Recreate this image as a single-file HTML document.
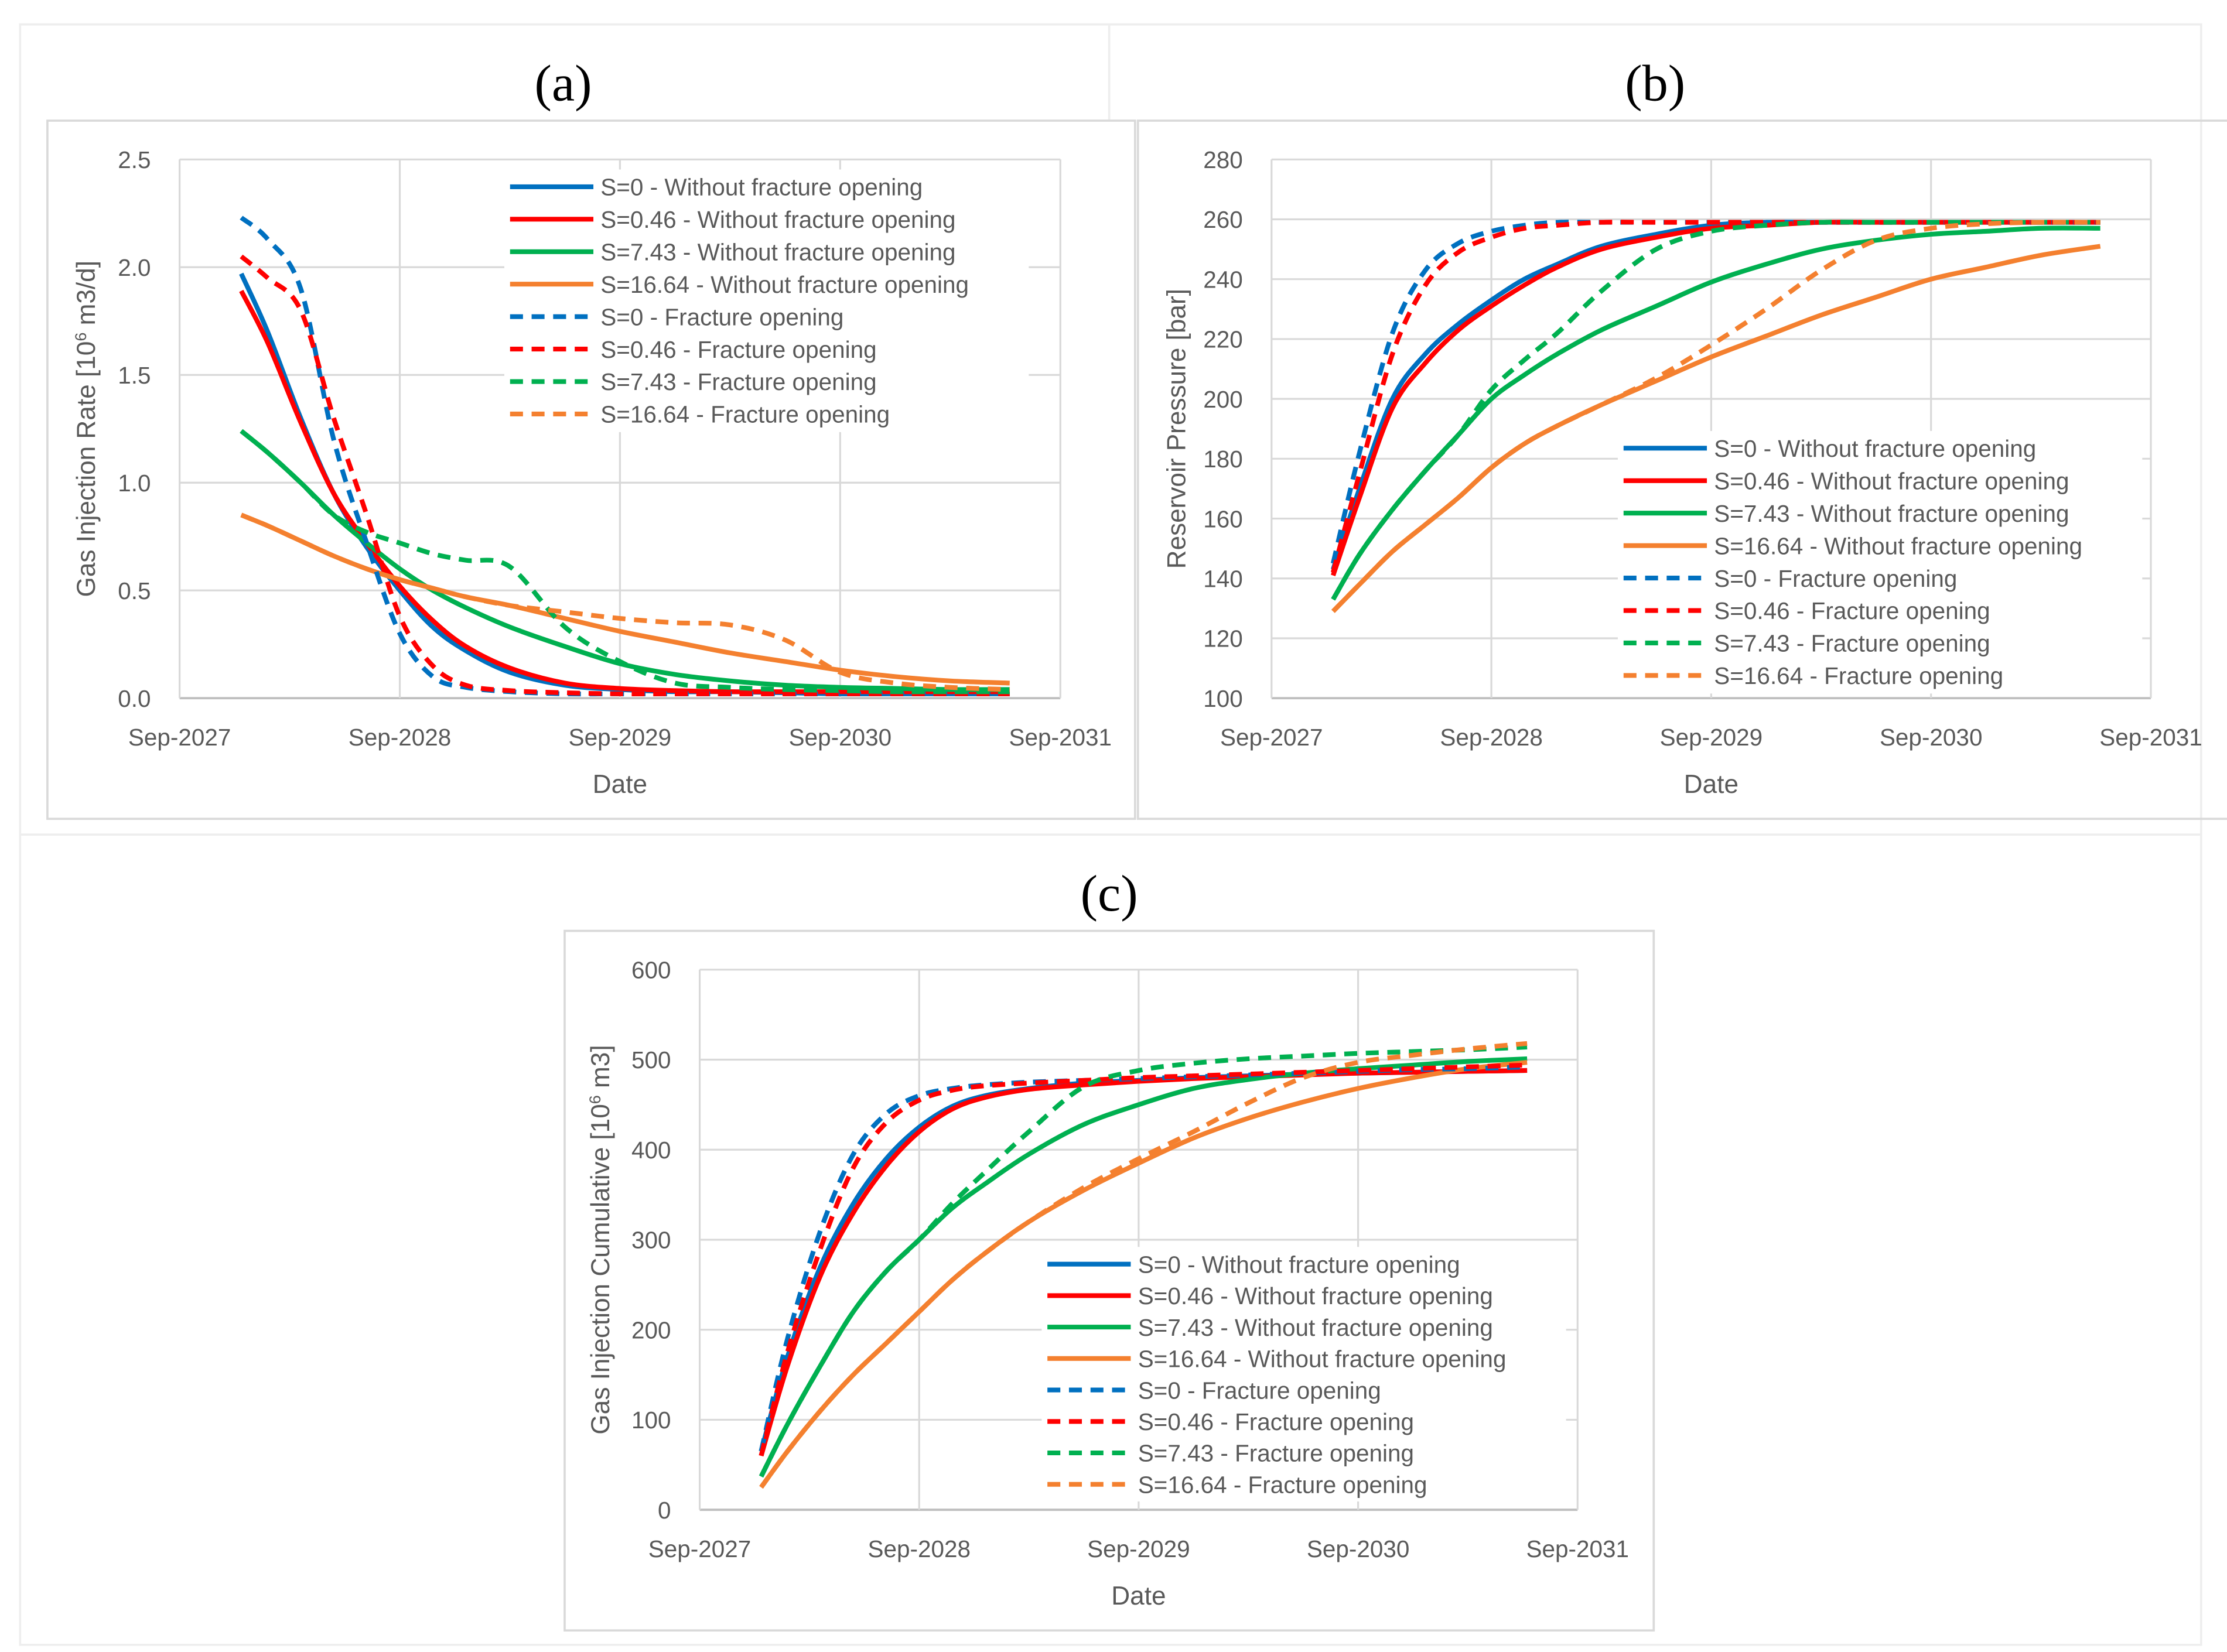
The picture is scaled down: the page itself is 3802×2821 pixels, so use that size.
<!DOCTYPE html>
<html><head><meta charset="utf-8"><style>
html,body{margin:0;padding:0;background:#fff}
svg{display:block}
text{font-family:"Liberation Sans",sans-serif}
</style></head><body>
<svg id="fig" width="3802" height="2821" viewBox="0 0 1550 1150" preserveAspectRatio="none" xmlns="http://www.w3.org/2000/svg">
<rect x="0" y="0" width="1550" height="1150" fill="#fff"/>
<rect x="14" y="17" width="1518" height="1128" fill="none" stroke="#eeeeee" stroke-width="1.5"/>
<line x1="14" y1="581" x2="1532" y2="581" stroke="#eeeeee" stroke-width="1.5"/>
<line x1="772" y1="17" x2="772" y2="84" stroke="#eeeeee" stroke-width="1.5"/>
<rect x="33" y="84" width="757" height="486" fill="none" stroke="#d9d9d9" stroke-width="1.5"/>
<rect x="792" y="84" width="760" height="486" fill="none" stroke="#d9d9d9" stroke-width="1.5"/>
<rect x="393" y="648" width="758" height="487" fill="none" stroke="#d9d9d9" stroke-width="1.5"/>
<text x="392" y="70" text-anchor="middle" font-size="36" style="font-family:'Liberation Serif',serif">(a)</text>
<text x="1152" y="70" text-anchor="middle" font-size="36" style="font-family:'Liberation Serif',serif">(b)</text>
<text x="772" y="634" text-anchor="middle" font-size="36" style="font-family:'Liberation Serif',serif">(c)</text>
<g id="charts"></g>
</svg>
<script>
const t = [0.28,0.4,0.55,0.7,0.85,1.0,1.15,1.3,1.5,1.75,2.0,2.25,2.5,2.75,3.0,3.25,3.5,3.77];
const xTickLabels = ["Sep-2027","Sep-2028","Sep-2029","Sep-2030","Sep-2031"];
const legendLabels = ["S=0 - Without fracture opening","S=0.46 - Without fracture opening","S=7.43 - Without fracture opening","S=16.64 - Without fracture opening","S=0 - Fracture opening","S=0.46 - Fracture opening","S=7.43 - Fracture opening","S=16.64 - Fracture opening"];

const rateS0 = [1.97,1.7,1.3,0.95,0.7,0.5,0.33,0.22,0.12,0.06,0.04,0.03,0.03,0.025,0.02,0.02,0.02,0.02];
const rateS046 = [1.89,1.65,1.28,0.95,0.72,0.52,0.36,0.24,0.14,0.07,0.045,0.035,0.03,0.03,0.03,0.03,0.03,0.03];
const rateS743 = [1.24,1.14,1.0,0.85,0.72,0.6,0.5,0.42,0.33,0.24,0.16,0.11,0.08,0.06,0.05,0.045,0.04,0.04];
const rateS1664 = [0.85,0.8,0.73,0.66,0.6,0.55,0.51,0.47,0.43,0.37,0.31,0.26,0.21,0.17,0.13,0.1,0.08,0.07];
const rateS0F = [2.23,2.13,1.9,1.2,0.72,0.3,0.1,0.05,0.03,0.02,0.02,0.02,0.02,0.02,0.02,0.02,0.02,0.02];
const rateS046F = [2.05,1.95,1.8,1.3,0.85,0.38,0.15,0.06,0.035,0.025,0.02,0.02,0.02,0.02,0.02,0.02,0.02,0.02];
const rateS743F = [1.24,1.14,1.0,0.85,0.77,0.72,0.67,0.64,0.61,0.33,0.17,0.07,0.05,0.04,0.035,0.03,0.03,0.03];
const rateS1664F = [0.85,0.8,0.73,0.66,0.6,0.55,0.51,0.47,0.43,0.4,0.37,0.35,0.34,0.27,0.12,0.07,0.05,0.04];
const rateTicks = ["0.0","0.5","1.0","1.5","2.0","2.5"];

const presS0 = [143,170,200,215,225,233,240,245,251,255,258,259,259,259,259,259,259,259];
const presS046 = [141,167,197,212,223,231,238,244,250,254,257,258,259,259,259,259,259,259];
const presS743 = [133,148,163,176,188,200,208,215,223,231,239,245,250,253,255,256,257,257];
const presS1664 = [129,138,149,158,167,177,185,191,198,206,214,221,228,234,240,244,248,251];
const presS0F = [145,182,222,243,252,256,258,259,259,259,259,259,259,259,259,259,259,259];
const presS046F = [142,175,215,238,249,254,257,258,259,259,259,259,259,259,259,259,259,259];
const presS743F = [133,148,163,176,188,203,213,222,236,250,256,258,259,259,259,259,259,259];
const presS1664F = [129,138,149,158,167,177,185,191,198,207,218,230,243,253,257,258.5,259,259];
const presTicks = ["100","120","140","160","180","200","220","240","260","280"];

const cumS0 = [65,170,270,340,390,425,448,460,468,474,477,480,482,484,485,486,487,488];
const cumS046 = [60,160,260,330,382,420,445,458,467,472,476,479,481,483,485,486,487,488];
const cumS743 = [37,95,160,220,265,300,335,362,395,428,450,468,478,485,490,494,498,501];
const cumS1664 = [25,65,110,150,185,220,255,285,320,355,385,413,435,453,468,480,490,497];
const cumS0F = [65,190,310,395,440,460,468,472,475,477,479,481,483,485,487,489,490,492];
const cumS046F = [60,175,290,380,430,455,466,471,474,477,480,482,484,486,488,490,492,494];
const cumS743F = [37,95,160,220,265,300,340,375,420,470,488,496,501,504,507,509,511,514];
const cumS1664F = [25,65,110,150,185,220,255,285,320,358,390,420,452,480,497,505,512,518];
const cumTicks = ["0","100","200","300","400","500","600"];

const colors = ["#0070C0","#FF0000","#00B050","#F4802F","#0070C0","#FF0000","#00B050","#F4802F"];
const NS = "http://www.w3.org/2000/svg";
const root = document.getElementById("charts");
function mk(tag, attrs, parent){ const e=document.createElementNS(NS,tag); for(const k in attrs) e.setAttribute(k,attrs[k]); (parent||root).appendChild(e); return e; }
function smoothPath(pts){
  let d = "M"+pts[0][0].toFixed(2)+","+pts[0][1].toFixed(2);
  for(let i=0;i<pts.length-1;i++){
    const p0=pts[i-1]||pts[i], p1=pts[i], p2=pts[i+1], p3=pts[i+2]||p2;
    const c1=[p1[0]+(p2[0]-p0[0])/6, p1[1]+(p2[1]-p0[1])/6];
    const c2=[p2[0]-(p3[0]-p1[0])/6, p2[1]-(p3[1]-p1[1])/6];
    d += " C"+c1[0].toFixed(2)+","+c1[1].toFixed(2)+" "+c2[0].toFixed(2)+","+c2[1].toFixed(2)+" "+p2[0].toFixed(2)+","+p2[1].toFixed(2);
  }
  return d;
}

function panel(cfg){
  const g = mk("g",{});
  
  
  const xs = v => cfg.x0 + v/4*(cfg.x1-cfg.x0);
  const ys = v => cfg.y1 - (v-cfg.ymin)/(cfg.ymax-cfg.ymin)*(cfg.y1-cfg.y0);
  cfg.ticks.forEach((lab,i)=>{
    const v = cfg.ymin + i*cfg.step;
    const y = ys(v);
    const gl = mk("line",{x1:cfg.x0,x2:cfg.x1,y1:y,y2:y,stroke:(i===0?"#bfbfbf":"#d9d9d9"),"stroke-width":(i===0?1.6:1.3)},g);
    
    
    const tx = mk("text",{x:cfg.x0-20,y:y+6,"text-anchor":"end","font-size":16.5,fill:"#595959"},g);
    tx.textContent = lab;
    
    
  });
  xTickLabels.forEach((lab,i)=>{
    const x = xs(i);
    const gl = mk("line",{x1:x,x2:x,y1:cfg.y0,y2:cfg.y1,stroke:"#d9d9d9","stroke-width":1.3},g);
    
    
    const tx = mk("text",{x:x,y:cfg.y1+33,"text-anchor":"middle","font-size":16.5,fill:"#595959"},g);
    tx.textContent = lab;
    
    
  });
  const xt = mk("text",{x:(cfg.x0+cfg.x1)/2,y:cfg.y1+66,"text-anchor":"middle","font-size":18,fill:"#595959"},g);
  xt.textContent = "Date";
  
  
  const yt = mk("text",{x:0,y:0,"text-anchor":"middle","font-size":18,fill:"#595959",transform:`translate(${cfg.yTitleX},${(cfg.y0+cfg.y1)/2}) rotate(-90)`},g);
  yt.innerHTML = cfg.ytitle;
  
  
  const lb = mk("rect",{x:cfg.lx-4,y:cfg.ly-12,width:cfg.lw,height:8*cfg.lsp+2,fill:"#fff"},g);
  
  
  cfg.series.forEach((s,k)=>{
    const pts = s.map((v,i)=>[xs(t[i]), ys(v)]);
    const p = mk("path",{d:smoothPath(pts),fill:"none",stroke:colors[k],"stroke-width":3.3,"stroke-linejoin":"round","stroke-dasharray":(k>=4?"9,6":"none")},g);
    
    
  });
  legendLabels.forEach((lab,k)=>{
    const y = cfg.ly + k*cfg.lsp;
    const ln = mk("line",{x1:cfg.lx,x2:cfg.lx+58,y1:y,y2:y,stroke:colors[k],"stroke-width":3.3,"stroke-dasharray":(k>=4?"9,6":"none")},g);
    
    
    const tx = mk("text",{x:cfg.lx+63,y:y+6,"font-size":16.5,fill:"#595959"},g);
    tx.textContent = lab;
    
    
  });
}

panel({name:"chart-a-injection-rate",x0:125,x1:738,y0:111,y1:486,ymin:0,ymax:2.5,step:0.5,ticks:rateTicks,
  ytitle:'Gas Injection Rate [10<tspan baseline-shift="super" font-size="11">6</tspan> m3/d]',yTitleX:66,
  series:[rateS0,rateS046,rateS743,rateS1664,rateS0F,rateS046F,rateS743F,rateS1664F],lx:355,ly:130,lsp:22.6,lw:365});
panel({name:"chart-b-reservoir-pressure",x0:885,x1:1497,y0:111,y1:486,ymin:100,ymax:280,step:20,ticks:presTicks,
  ytitle:'Reservoir Pressure [bar]',yTitleX:825,
  series:[presS0,presS046,presS743,presS1664,presS0F,presS046F,presS743F,presS1664F],lx:1130,ly:312,lsp:22.6,lw:365});
panel({name:"chart-c-injection-cumulative",x0:487,x1:1098,y0:675,y1:1051,ymin:0,ymax:600,step:100,ticks:cumTicks,
  ytitle:'Gas Injection Cumulative [10<tspan baseline-shift="super" font-size="11">6</tspan> m3]',yTitleX:424,
  series:[cumS0,cumS046,cumS743,cumS1664,cumS0F,cumS046F,cumS743F,cumS1664F],lx:729,ly:880,lsp:21.9,lw:365});
</script>
</body></html>
